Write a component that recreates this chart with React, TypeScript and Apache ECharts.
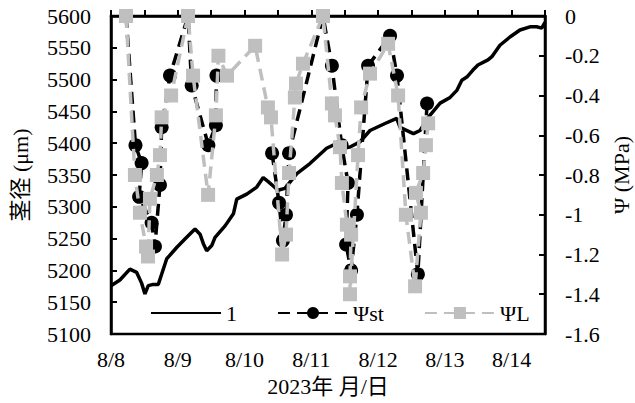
import React, { useEffect, useRef } from "react";
import * as echarts from "echarts";

// Stem diameter (left axis), hours since 8/8 00:00
const stemHours = [0, 3.2, 6.8, 9.2, 11.0, 12.2, 13.4, 15.2, 17.0, 18.2, 20.0, 23.6, 27.2, 30.2, 32.0, 33.2, 34.4, 36.2, 37.4, 41.0, 44.0, 45.2, 48.8, 52.4, 54.7, 56.4, 58.2, 60.0, 62.5, 66.8, 71.5, 77.5, 82.3, 84.1, 85.9, 89.5, 93.1, 98.5, 102.7, 103.9, 108.7, 111.1, 114.1, 118.3, 121.9, 124.3, 126.1, 127.9, 130.1, 131.9, 135.5, 136.9, 139.8, 143.4, 147.0, 150.6, 153.0, 154.8, 156];
const stemValues = [5176, 5185, 5202, 5197, 5180, 5163, 5176, 5178, 5178, 5194, 5218, 5236, 5252, 5265, 5257, 5242, 5231, 5239, 5252, 5270, 5289, 5312, 5320, 5331, 5346, 5340, 5333, 5326, 5329, 5352, 5368, 5392, 5402, 5393, 5394, 5402, 5420, 5431, 5439, 5425, 5415, 5420, 5441, 5463, 5472, 5483, 5499, 5504, 5515, 5523, 5531, 5536, 5554, 5567, 5578, 5583, 5583, 5581, 5590];

// Stem water potential Ψst (right axis)
const psiStHours = [5.4, 8.8, 11.0, 10.1, 14.6, 15.8, 17.6, 18.2, 21.2, 27.7, 29.0, 35.0, 37.7, 37.9, 47, 57.9, 60.4, 61.8, 62.9, 64.0, 76.2, 79.4, 82.9, 85.2, 84.5, 86.3, 88.4, 92.4, 100.3, 102.8, 110.3, 113.6];
const psiStValues = [0, -0.65, -0.74, -0.91, -1.04, -1.16, -0.85, -0.56, -0.30, 0, -0.35, -0.65, -0.55, -0.30, null, -0.69, -0.94, -1.13, -1.0, -0.69, 0, -0.25, -0.65, -0.84, -1.15, -1.28, -1.0, -0.25, -0.10, -0.30, -1.30, -0.44];

// Leaf water potential ΨL (right axis)
const psiLHours = [5.4, 8.6, 10.4, 12.6, 13.3, 14.0, 16.5, 17.6, 18.2, 21.6, 27.7, 29.5, 34.9, 37.7, 38.6, 41.7, 51.8, 56.4, 57.5, 61.5, 62.9, 64.0, 66.1, 66.5, 69.0, 76.2, 79.4, 80.5, 82.3, 83.0, 84.8, 86.3, 85.9, 85.9, 88.8, 89.9, 93.1, 99.6, 103.2, 106.0, 109.3, 111.4, 109.6, 112.2, 113.2, 114.0];
const psiLValues = [0, -0.8, -0.99, -1.16, -1.21, -0.92, -0.8, -0.7, -0.51, -0.4, 0, -0.3, -0.9, -0.5, -0.2, -0.3, -0.15, -0.46, -0.51, -1.2, -1.1, -0.79, -0.41, -0.34, -0.24, 0, -0.44, -0.5, -0.66, -0.84, -1.05, -1.1, -1.31, -1.4, -0.7, -0.46, -0.29, -0.14, -0.4, -1.0, -1.36, -0.99, -0.89, -0.79, -0.65, -0.54];

const dayLabels = ["8/8", "8/9", "8/10", "8/11", "8/12", "8/13", "8/14"];

const FONT = "'Liberation Serif', 'Times New Roman', Times, serif";
const FONT_CJK = "'Liberation Serif', 'Times New Roman', 'Noto Sans CJK JP', serif";
const GRAY = "#BFBFBF";

function pairs(h: number[], v: (number | null)[]) {
  return h.map((x, i) => (v[i] === null ? [x, "-"] : [x, v[i]]));
}

export default function App() {
  const ref = useRef<HTMLDivElement>(null);
  useEffect(() => {
    if (!ref.current) return;
    const chart = echarts.init(ref.current, null, { renderer: "svg" });
    const axisLine = { show: true, lineStyle: { color: "#000", width: 2.5 } };
    const axisTick = { show: true, inside: true, length: 6, lineStyle: { color: "#000", width: 2 } };
    const label = { color: "#000", fontSize: 22, fontFamily: FONT };
    chart.setOption({
      animation: false,
      backgroundColor: "#fff",
      textStyle: { fontFamily: FONT },
      grid: {
        left: 111,
        right: 90,
        top: 16,
        bottom: 69,
        show: true,
        borderColor: "#000",
        borderWidth: 2.5,
        outerBoundsMode: "none",
      },
      legend: {
        left: 145,
        top: 297,
        itemWidth: 70,
        itemHeight: 15,
        itemGap: 40,
        textStyle: { color: "#000", fontSize: 22, fontFamily: FONT },
        data: [
          { name: "1", itemStyle: { opacity: 0 } },
          { name: "Ψst" },
          { name: "ΨL" },
        ],
      },
      xAxis: {
        type: "value",
        min: 0,
        max: 156,
        interval: 12,
        axisLine,
        axisTick,
        splitLine: { show: false },
        axisLabel: {
          ...label,
          margin: 14,
          formatter: (v: number) => (v % 24 === 0 ? dayLabels[v / 24] ?? "" : ""),
        },
        name: "2023年 月/日",
        nameLocation: "middle",
        nameGap: 41,
        nameTextStyle: { color: "#000", fontSize: 22, fontFamily: FONT_CJK },
      },
      yAxis: [
        {
          type: "value",
          min: 5100,
          max: 5600,
          interval: 50,
          axisLine,
          axisTick,
          splitLine: { show: false },
          axisLabel: { ...label, margin: 20, formatter: (v: number) => String(v) },
          name: "茎径 (μm)",
          nameLocation: "middle",
          nameRotate: 90,
          nameGap: 80,
          nameTextStyle: { color: "#000", fontSize: 22, fontFamily: FONT_CJK },
        },
        {
          type: "value",
          min: -1.6,
          max: 0,
          interval: 0.2,
          position: "right",
          axisLine,
          axisTick,
          splitLine: { show: false },
          axisLabel: { ...label, margin: 20, formatter: (v: number) => String(Math.round(v * 10) / 10) },
          name: "Ψ (MPa)",
          nameLocation: "middle",
          nameRotate: 90,
          nameGap: 53,
          nameTextStyle: { color: "#000", fontSize: 22, fontFamily: FONT },
        },
      ],
      series: [
        {
          name: "1",
          type: "line",
          yAxisIndex: 0,
          data: pairs(stemHours, stemValues),
          showSymbol: false,
          symbol: "none",
          lineStyle: { color: "#000", width: 3.5 },
          itemStyle: { color: "#000" },
          z: 2,
        },
        {
          name: "Ψst",
          type: "line",
          yAxisIndex: 1,
          data: pairs(psiStHours, psiStValues),
          symbol: "circle",
          symbolSize: 14,
          connectNulls: false,
          lineStyle: { color: "#000", width: 3.5, type: [12, 7] },
          itemStyle: { color: "#000" },
          z: 3,
        },
        {
          name: "ΨL",
          type: "line",
          yAxisIndex: 1,
          data: pairs(psiLHours, psiLValues),
          symbol: "rect",
          symbolSize: 14,
          lineStyle: { color: GRAY, width: 3.5, type: [12, 7] },
          itemStyle: { color: GRAY },
          z: 4,
        },
      ],
    });
    return () => chart.dispose();
  }, []);
  return (
    <div
      ref={ref}
      style={{ position: "fixed", left: 0, top: 0, width: 635, height: 403 }}
    />
  );
}
